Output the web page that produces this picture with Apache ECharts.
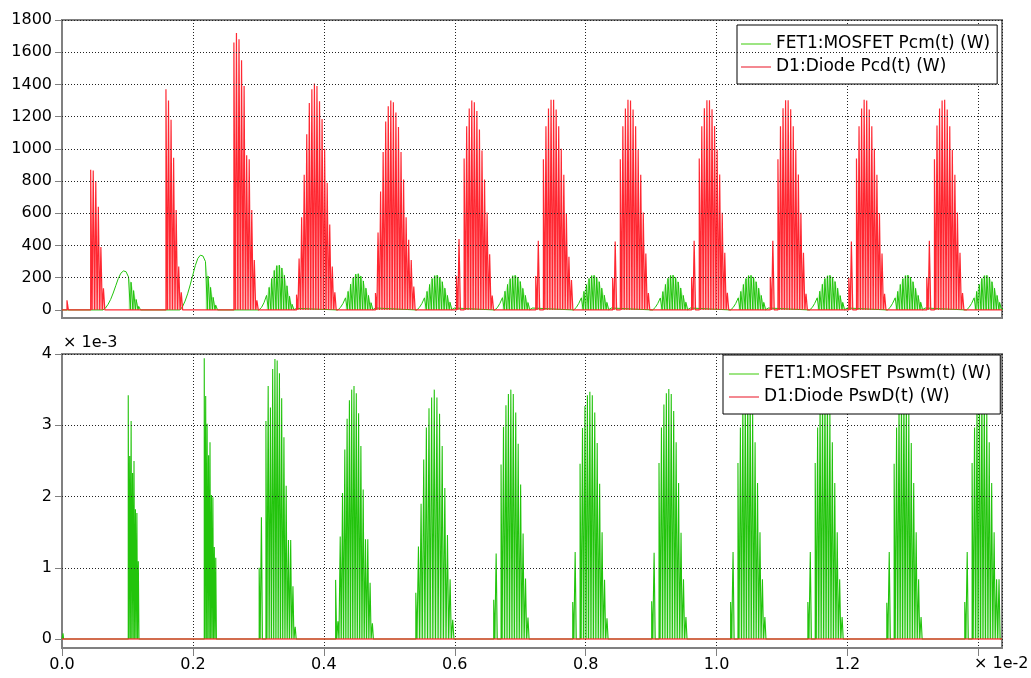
<!DOCTYPE html>
<html>
<head>
<meta charset="utf-8">
<script src="https://cdn.jsdelivr.net/npm/echarts@6/dist/echarts.min.js"></script>
<style>
  html, body { margin: 0; padding: 0; background: #fff; }
  #chart { width: 1031px; height: 678px; }
</style>
</head>
<body>
<div id="chart"></div>
<script>
// Time axis is in units of 1e-2 s
const TIME_MAX = 1.436;
const T_SW = 0.0039;          // switching period (x 1e-2 s)

// ---- D1:Diode Pcd(t) (W): start of each conduction burst and pulse peaks
const pcdStart = [0.0076, 0.0438, 0.1588, 0.2626, 0.3583, 0.4789, 0.6026, 0.7237, 0.8412, 0.9618, 1.0820, 1.2020, 1.3211];
const pcdPeaks = [
  [60],
  [870, 865, 800, 640, 390, 135],
  [1370, 1300, 1180, 945, 620, 270, 110],
  [1660, 1720, 1680, 1550, 1390, 960, 935, 620, 310, 60],
  [95, 320, 575, 840, 1090, 1285, 1370, 1405, 1390, 1295, 1185, 1000, 790, 530, 270, 110],
  [105, 480, 735, 980, 1170, 1265, 1300, 1290, 1225, 1135, 980, 810, 575, 435, 310, 145],
  [210, 440, 0, 940, 1140, 1250, 1300, 1290, 1235, 1120, 990, 810, 605, 345, 90],
  [210, 430, 0, 935, 1140, 1250, 1305, 1305, 1245, 1140, 1000, 840, 600, 330, 185],
  [200, 425, 0, 935, 1140, 1250, 1305, 1300, 1245, 1140, 995, 840, 605, 350, 105],
  [205, 430, 0, 940, 1140, 1252, 1302, 1302, 1246, 1142, 997, 841, 604, 355, 106],
  [205, 430, 0, 935, 1140, 1252, 1302, 1302, 1246, 1140, 997, 841, 604, 355, 100],
  [200, 425, 0, 940, 1140, 1250, 1305, 1300, 1245, 1140, 1000, 840, 600, 350, 100],
  [205, 430, 0, 935, 1145, 1250, 1300, 1305, 1245, 1140, 995, 840, 605, 355, 105]
];

// ---- FET1:MOSFET Pcm(t) (W): conduction humps sampled once per switching period
const pcmStart = [0.0626, 0.1802, 0.3008, 0.4214, 0.5420, 0.6611, 0.7817, 0.9023, 1.0214, 1.1420, 1.2611, 1.3817];
const pcmPulseFrom = [10, 10, 3, 3, 3, 3, 3, 3, 3, 3, 3, 3];
const pcmEnvelope = [
  [0, 12, 35, 65, 105, 150, 195, 228, 242, 238, 205, 172, 120, 65, 22],
  [0, 20, 55, 100, 155, 215, 275, 320, 340, 335, 300, 210, 140, 78, 30],
  [0, 15, 45, 90, 140, 195, 245, 275, 278, 260, 215, 150, 85, 35, 10],
  [0, 15, 40, 75, 115, 160, 200, 222, 225, 210, 180, 135, 90, 45, 12],
  [0, 15, 40, 75, 115, 158, 195, 213, 216, 203, 175, 135, 90, 48, 12],
  [0, 14, 40, 76, 116, 158, 194, 212, 215, 204, 176, 134, 90, 46, 12],
  [0, 15, 41, 75, 115, 157, 195, 213, 215, 203, 175, 135, 91, 47, 12],
  [0, 15, 40, 74, 114, 158, 196, 214, 216, 202, 174, 136, 90, 48, 12],
  [0, 15, 40, 75, 115, 158, 195, 213, 215, 203, 175, 135, 90, 47, 12],
  [0, 14, 40, 75, 116, 159, 195, 212, 215, 204, 176, 135, 89, 47, 12],
  [0, 15, 41, 75, 115, 158, 194, 213, 216, 203, 175, 134, 90, 48, 12],
  [0, 15, 40, 75, 115, 158, 195, 213, 215, 203, 175, 135, 90, 47, 12]
];

// ---- FET1:MOSFET Pswm(t) (x 1e-3 W): switching-loss spike bursts
const pswmStart = [0.0015, 0.1012, 0.2173, 0.3012, 0.4180, 0.5405, 0.6595, 0.7802, 0.9008, 1.0214, 1.1394, 1.2600, 1.3791];
const pswmStep = [0.0022, 0.0022, 0.0022, 0.00344, 0.00351, 0.00403, 0.00374, 0.00374, 0.00374, 0.00374, 0.00374, 0.00374, 0.00374];
const pswmPeaks = [
  [0.08],
  [3.42, 2.57, 3.06, 2.33, 2.5, 1.82, 1.77, 1.09],
  [3.94, 3.41, 3.02, 2.58, 2.76, 2.02, 1.99, 1.29, 1.14],
  [1.0, 1.71, 0, 3.06, 3.55, 3.25, 3.79, 3.93, 3.91, 3.73, 3.38, 2.83, 2.15, 1.39, 1.39, 0.74, 0.17],
  [0.83, 0.25, 1.44, 2.05, 2.66, 3.09, 3.35, 3.5, 3.55, 3.45, 3.17, 2.71, 2.1, 1.4, 1.4, 0.79, 0.22],
  [0.65, 1.3, 1.9, 2.52, 2.97, 3.24, 3.39, 3.5, 3.39, 3.16, 2.71, 2.12, 1.46, 0.84, 0.27],
  [0.55, 1.2, 0, 2.45, 2.98, 3.28, 3.44, 3.5, 3.44, 3.18, 2.74, 2.17, 1.48, 0.85, 0.3],
  [0.52, 1.22, 0, 2.46, 2.96, 3.27, 3.42, 3.47, 3.42, 3.18, 2.75, 2.18, 1.5, 0.83, 0.29],
  [0.53, 1.21, 0, 2.47, 2.97, 3.29, 3.45, 3.51, 3.44, 3.2, 2.76, 2.19, 1.49, 0.84, 0.31],
  [0.52, 1.22, 0, 2.47, 2.97, 3.3, 3.45, 3.52, 3.45, 3.2, 2.76, 2.19, 1.5, 0.84, 0.31],
  [0.52, 1.22, 0, 2.47, 2.97, 3.3, 3.46, 3.52, 3.45, 3.2, 2.76, 2.19, 1.5, 0.84, 0.31],
  [0.51, 1.22, 0, 2.46, 2.97, 3.29, 3.45, 3.51, 3.45, 3.2, 2.75, 2.19, 1.5, 0.84, 0.31],
  [0.52, 1.22, 0, 2.47, 2.97, 3.3, 3.45, 3.52, 3.45, 3.2, 2.76, 2.19, 1.5, 0.84, 0.84]
];

// ---- D1:Diode PswD(t) (x 1e-3 W): stays at zero
const pswdTime = [0, TIME_MAX];
const pswdValue = [0, 0];

// Axis ticks
const topTicks = [0, 200, 400, 600, 800, 1000, 1200, 1400, 1600, 1800];
const bottomTicks = [0, 1, 2, 3, 4];

// Build a train of narrow rectangular pulses from burst starts / steps / peaks
function pulseTrain(starts, steps, peaks, duty) {
  const pts = [[0, 0]];
  starts.forEach((t0, k) => {
    const dt = Array.isArray(steps) ? steps[k] : steps;
    peaks[k].forEach((v, i) => {
      if (!v) return;
      const t = t0 + i * dt;
      const te = t + dt * duty;
      pts.push([t, 0], [t, v], [te, v], [te, 0]);
    });
  });
  pts.push([TIME_MAX, 0]);
  return pts;
}

// MOSFET conduction: continuous envelope, chopped into pulses from pcmPulseFrom on
function pcmLine() {
  const pts = [[0, 0]];
  pcmStart.forEach((t0, k) => {
    const env = pcmEnvelope[k], from = pcmPulseFrom[k];
    env.forEach((v, i) => {
      const t = t0 + i * T_SW;
      if (i < from) { pts.push([t, v]); return; }
      const te = t + 0.72 * T_SW;
      if (i > from) pts.push([t, 0]);
      pts.push([t, v], [te, v], [te, 0]);
    });
  });
  pts.push([TIME_MAX, 0]);
  return pts;
}
function pcmFill() {
  const pts = [[0, 0]];
  pcmStart.forEach((t0, k) => {
    const env = pcmEnvelope[k], from = pcmPulseFrom[k];
    const tA = t0 + from * T_SW;
    pts.push([tA, 0]);
    for (let i = from; i < env.length; i++) pts.push([t0 + i * T_SW, env[i]]);
    const tB = t0 + (env.length - 1 + 0.72) * T_SW;
    pts.push([tB, env[env.length - 1]], [tB, 0]);
  });
  pts.push([TIME_MAX, 0]);
  return pts;
}

const GREEN = '#22c40c';
const GREEN_FILL = 'rgba(34,196,12,0.30)';
const RED = '#ff1e28';
const RED_FILL = 'rgba(255,30,40,0.42)';
const AXIS_GRAY = '#808080';
const FONT = 'DejaVu Sans';

const gridLine = { show: true, lineStyle: { color: '#222', type: [1, 2], width: 1 } };

function xAxisFor(gridIndex, withLabels) {
  return {
    type: 'value', gridIndex, min: 0, max: TIME_MAX, interval: 0.2,
    axisLine: { show: true, onZero: false, lineStyle: { color: AXIS_GRAY, width: 2 } },
    axisTick: { show: withLabels, length: 8, lineStyle: { color: AXIS_GRAY } },
    axisLabel: {
      show: withLabels, margin: 9, color: '#000', fontFamily: FONT, fontSize: 16,
      formatter: v => (Math.abs(v - 1.4) < 1e-6 ? '' : v.toFixed(1)),
      showMaxLabel: false
    },
    splitLine: gridLine
  };
}
function yAxisFor(gridIndex, min, max, ticks) {
  return {
    type: 'value', gridIndex, min, max,
    axisLine: { show: true, onZero: false, lineStyle: { color: AXIS_GRAY, width: 2 } },
    axisTick: { show: true, length: 7, customValues: ticks, lineStyle: { color: AXIS_GRAY } },
    axisLabel: {
      show: true, margin: 10, customValues: ticks, color: '#000', fontFamily: FONT, fontSize: 16,
      formatter: v => String(Math.round(v))
    },
    splitLine: { show: false }
  };
}

// horizontal gridlines placed at tick values
function hGrid(xi, yi, ticks) {
  return {
    type: 'line', xAxisIndex: xi, yAxisIndex: yi, data: [], silent: true,
    markLine: {
      silent: true, symbol: 'none', label: { show: false }, animation: false,
      lineStyle: { color: '#222', type: [1, 2], width: 1 },
      data: ticks.filter(v => v !== 0).map(v => ({ yAxis: v }))
    }
  };
}

const legendBase = {
  orient: 'vertical', backgroundColor: '#fff', borderColor: '#000', borderWidth: 1,
  icon: 'rect', itemWidth: 30, itemHeight: 1.5, itemGap: 3,
  textStyle: { color: '#000', fontFamily: FONT, fontSize: 17, lineHeight: 20 }
};

const chart = echarts.init(document.getElementById('chart'), null, { renderer: 'canvas' });
chart.setOption({
  animation: false,
  grid: [
    { left: 62, right: 29, top: 20, height: 298, show: true, borderColor: AXIS_GRAY, borderWidth: 2 },
    { left: 62, right: 29, top: 354, height: 294, show: true, borderColor: AXIS_GRAY, borderWidth: 2 }
  ],
  xAxis: [xAxisFor(0, false), xAxisFor(1, true)],
  yAxis: [yAxisFor(0, -50, 1800, topTicks), yAxisFor(1, -0.126, 4, bottomTicks)],
  legend: [
    Object.assign({}, legendBase, {
      left: 737, top: 25, padding: [9, 7, 7, 4],
      data: [
        { name: 'FET1:MOSFET Pcm(t) (W)', itemStyle: { color: '#7ddc5a' } },
        { name: 'D1:Diode Pcd(t) (W)', itemStyle: { color: '#f0606c' } }
      ]
    }),
    Object.assign({}, legendBase, {
      left: 723, top: 355, padding: [9, 9, 7, 6],
      data: [
        { name: 'FET1:MOSFET Pswm(t) (W)', itemStyle: { color: '#7ddc5a' } },
        { name: 'D1:Diode PswD(t) (W)', itemStyle: { color: '#f0606c' } }
      ]
    })
  ],
  graphic: [
    { type: 'text', left: 63, top: 335, style: { text: '× 1e-3', font: '16px "DejaVu Sans"', fill: '#000' } },
    { type: 'text', left: 974, top: 656, style: { text: '× 1e-2', font: '16px "DejaVu Sans"', fill: '#000' } }
  ],
  series: [
    hGrid(0, 0, topTicks),
    hGrid(1, 1, bottomTicks),
    {
      name: 'FET1:MOSFET Pcm(t) (W)', type: 'line', xAxisIndex: 0, yAxisIndex: 0,
      data: pcmFill(), showSymbol: false, symbol: 'none', sampling: 'none',
      lineStyle: { width: 0, color: GREEN }, itemStyle: { color: GREEN },
      areaStyle: { color: GREEN_FILL, origin: 0 }
    },
    {
      name: 'FET1:MOSFET Pcm(t) (W)', type: 'line', xAxisIndex: 0, yAxisIndex: 0,
      data: pcmLine(), showSymbol: false, symbol: 'none', sampling: 'none',
      lineStyle: { width: 1, color: GREEN }, itemStyle: { color: GREEN }
    },
    {
      name: 'D1:Diode Pcd(t) (W)', type: 'line', xAxisIndex: 0, yAxisIndex: 0,
      data: pulseTrain(pcdStart, T_SW, pcdPeaks, 0.55), showSymbol: false, symbol: 'none', sampling: 'none',
      lineStyle: { width: 1.2, color: RED, opacity: 0.95 }, itemStyle: { color: RED },
      areaStyle: { color: RED_FILL, origin: 0 }
    },
    {
      name: 'FET1:MOSFET Pswm(t) (W)', type: 'line', xAxisIndex: 1, yAxisIndex: 1,
      data: pulseTrain(pswmStart, pswmStep, pswmPeaks, 0.45), showSymbol: false, symbol: 'none', sampling: 'none',
      lineStyle: { width: 1.1, color: GREEN }, itemStyle: { color: GREEN },
      areaStyle: { color: GREEN_FILL, origin: 0 }
    },
    {
      name: 'D1:Diode PswD(t) (W)', type: 'line', xAxisIndex: 1, yAxisIndex: 1,
      data: pswdTime.map((t, i) => [t, pswdValue[i]]), showSymbol: false, symbol: 'none',
      lineStyle: { width: 1.5, color: RED, opacity: 0.8 }, itemStyle: { color: RED }
    }
  ]
});
</script>
</body>
</html>
